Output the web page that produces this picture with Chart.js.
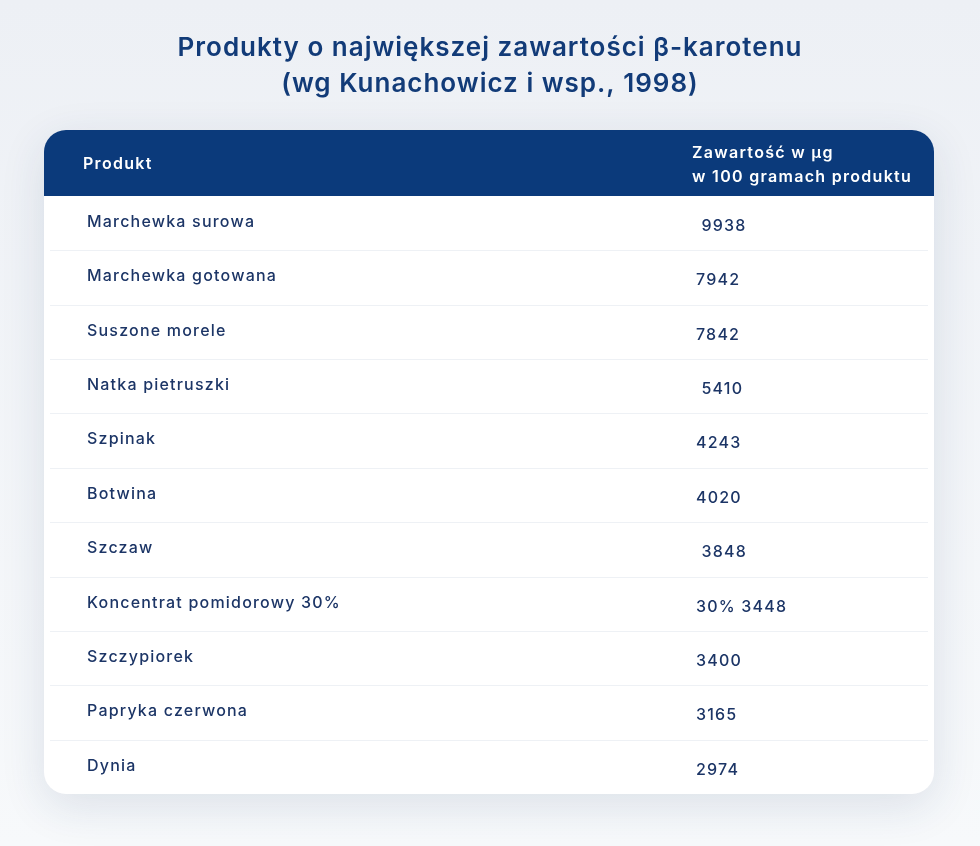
<!DOCTYPE html>
<html>
<head>
<meta charset="utf-8">
<script src="https://cdn.jsdelivr.net/npm/chart.js@4"></script>
<style>
  html, body { margin: 0; padding: 0; background: #f2f5f9; }
  canvas { display: block; }
</style>
</head>
<body>
<canvas id="c" width="980" height="846"></canvas>
<script>
const titleLines = ['Produkty o największej zawartości β-karotenu', '(wg Kunachowicz i wsp., 1998)'];
const headerProduct = 'Produkt';
const headerValue = ['Zawartość w µg', 'w 100 gramach produktu'];
const products = [
  'Marchewka surowa', 'Marchewka gotowana', 'Suszone morele', 'Natka pietruszki',
  'Szpinak', 'Botwina', 'Szczaw', 'Koncentrat pomidorowy 30%',
  'Szczypiorek', 'Papryka czerwona', 'Dynia'
];
const values = [9938, 7942, 7842, 5410, 4243, 4020, 3848, 3448, 3400, 3165, 2974];
const valueLabels = [' 9938', '7942', '7842', ' 5410', '4243', '4020', ' 3848', '30% 3448', '3400', '3165', '2974'];

const HEADER_H = 66;
const RADIUS = 22;
const FONT = 'Inter, "Noto Sans", sans-serif';

const tablePlugin = {
  id: 'tablePlugin',
  beforeDraw(chart) {
    const ctx = chart.ctx;
    const W = chart.width, H = chart.height;
    const a = chart.chartArea;
    const y = chart.scales.y;
    ctx.save();
    const g = ctx.createLinearGradient(0, 0, 0, H);
    g.addColorStop(0, '#edf0f5');
    g.addColorStop(1, '#f7f9fb');
    ctx.fillStyle = g;
    ctx.fillRect(0, 0, W, H);

    const top = a.top - HEADER_H;
    ctx.save();
    ctx.shadowColor = 'rgba(30, 60, 110, 0.13)';
    ctx.shadowBlur = 45;
    ctx.shadowOffsetY = 12;
    ctx.fillStyle = '#ffffff';
    ctx.beginPath();
    ctx.roundRect(a.left, top, a.right - a.left, a.bottom - top, RADIUS);
    ctx.fill();
    ctx.restore();

    ctx.fillStyle = '#0b3a7b';
    ctx.beginPath();
    ctx.roundRect(a.left, top, a.right - a.left, HEADER_H, [RADIUS, RADIUS, 0, 0]);
    ctx.fill();

    ctx.strokeStyle = '#eef1f5';
    ctx.lineWidth = 1;
    for (let i = 0; i < products.length - 1; i++) {
      const yy = Math.round((y.getPixelForValue(i) + y.getPixelForValue(i + 1)) / 2) + 0.5;
      ctx.beginPath();
      ctx.moveTo(a.left + 6, yy);
      ctx.lineTo(a.right - 6, yy);
      ctx.stroke();
    }
    ctx.restore();
  },
  afterDraw(chart) {
    const ctx = chart.ctx;
    const a = chart.chartArea;
    const y = chart.scales.y;
    const W = chart.width;
    const ls = (v) => { if ('letterSpacing' in ctx) ctx.letterSpacing = v; };
    ctx.save();
    ctx.textBaseline = 'middle';

    ctx.fillStyle = '#123b78';
    ctx.font = '600 26px ' + FONT;
    ctx.textAlign = 'center';
    ls('1px');
    ctx.fillText(titleLines[0], W / 2, 48);
    ctx.fillText(titleLines[1], W / 2, 84);

    const top = a.top - HEADER_H;
    ctx.fillStyle = '#ffffff';
    ctx.textAlign = 'left';
    ls('1.3px');
    ctx.font = '600 16px ' + FONT;
    ctx.fillText(headerProduct, a.left + 39, top + 34);
    ctx.fillText(headerValue[0], a.left + 648, top + 23);
    ctx.fillText(headerValue[1], a.left + 648, top + 47);

    ctx.fillStyle = '#1c3566';
    ctx.font = '500 16px ' + FONT;
    ls('1.2px');
    products.forEach((p, i) => {
      const cy = y.getPixelForValue(i);
      ctx.fillText(p, a.left + 43, cy - 1);
      ctx.fillText(valueLabels[i], a.left + 652, cy + 3);
    });
    ctx.restore();
  }
};

new Chart(document.getElementById('c'), {
  type: 'bar',
  data: {
    labels: products,
    datasets: [{
      label: headerValue.join(' '),
      data: values,
      backgroundColor: 'rgba(0,0,0,0)',
      borderWidth: 0
    }]
  },
  options: {
    responsive: false,
    animation: false,
    indexAxis: 'y',
    layout: { padding: { left: 44, right: 46, top: 196, bottom: 52 } },
    scales: {
      x: { display: false, min: 0, max: 10000 },
      y: { display: false }
    },
    plugins: {
      legend: { display: false },
      tooltip: { enabled: false },
      title: { display: false }
    }
  },
  plugins: [tablePlugin]
});
</script>
</body>
</html>
